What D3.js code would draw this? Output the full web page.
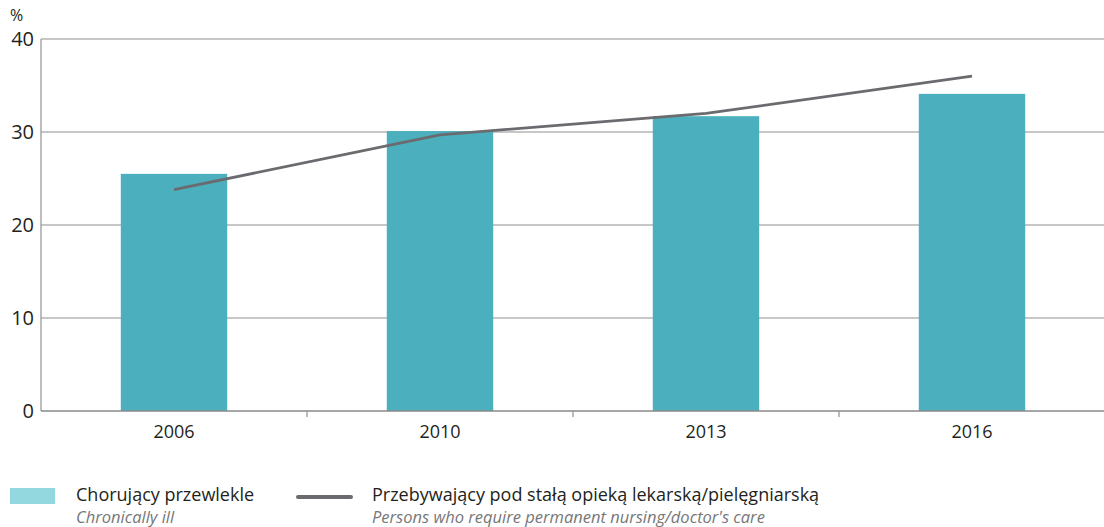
<!DOCTYPE html>
<html><head><meta charset="utf-8">
<script src="https://cdn.jsdelivr.net/npm/d3@7"></script>
<style>
body{margin:0;background:#fff;}
text{font-family:"Open Sans","Noto Sans",sans-serif;}
</style></head>
<body><svg id="c" width="1104" height="527"></svg>
<script>
const categories = ["2006","2010","2013","2016"];
const chronicallyIll = [25.5, 30.1, 31.7, 34.1];
const permanentCare = [23.8, 29.7, 32.0, 36.0];
const yTicks = [0,10,20,30,40];

(function(){
const svg = d3.select("#c");
const pL = 41, pR = 1105, pT = 39, pB = 411;
const x = d3.scaleBand().domain(categories).range([pL, pR]).paddingInner(0.6).paddingOuter(0.3);
const xc = d => x(d) + x.bandwidth()/2;
const y = d3.scaleLinear().domain([0,40]).range([pB, pT]);

// gridlines
svg.append("g").selectAll("line").data(yTicks.filter(t=>t>0)).join("line")
  .attr("x1", pL).attr("x2", 1104).attr("y1", d=>y(d)).attr("y2", d=>y(d))
  .attr("stroke", "#b5b5b5").attr("stroke-width", 1.3);

// bars
svg.append("g").selectAll("rect").data(chronicallyIll).join("rect")
  .attr("x", (d,i)=>x(categories[i])).attr("width", x.bandwidth())
  .attr("y", d=>y(d)).attr("height", d=>pB - y(d))
  .attr("fill", "#4bafbd");

// y axis line
svg.append("line").attr("x1", pL).attr("x2", pL).attr("y1", pT).attr("y2", pB)
  .attr("stroke", "#9a9a9a").attr("stroke-width", 1.3);
// x axis
svg.append("line").attr("x1", pL).attr("x2", 1104).attr("y1", pB).attr("y2", pB)
  .attr("stroke", "#8a8a8a").attr("stroke-width", 1.6);
// ticks between bands
const step = x.step();
svg.append("g").selectAll("line").data(categories.slice(1)).join("line")
  .attr("x1", d=>x(d) - x.paddingInner()*step/2).attr("x2", d=>x(d) - x.paddingInner()*step/2)
  .attr("y1", pB).attr("y2", pB+6).attr("stroke", "#9a9a9a").attr("stroke-width", 1.3);

// y labels
svg.append("g").selectAll("text").data(yTicks).join("text")
  .attr("x", 34).attr("y", d=>y(d)+7).attr("text-anchor","end")
  .attr("font-size", 20).attr("fill","#231f20").text(d=>d);
svg.append("text").attr("x", 10).attr("y", 21).attr("font-size", 16).attr("fill","#231f20").text("%");

// x labels
svg.append("g").selectAll("text").data(categories).join("text")
  .attr("x", d=>xc(d)).attr("y", 438).attr("text-anchor","middle")
  .attr("font-size", 18).attr("fill","#231f20").text(d=>d);

// line
const line = d3.line().x((d,i)=>xc(categories[i])).y(d=>y(d)).curve(d3.curveLinear);
svg.append("path").datum(permanentCare).attr("d", line)
  .attr("fill","none").attr("stroke","#6b6b6f").attr("stroke-width",2.8).attr("stroke-linejoin","round");

// legend
svg.append("rect").attr("x",10).attr("y",488).attr("width",45).attr("height",16).attr("fill","#93d7df");
svg.append("text").attr("x",76).attr("y",501).attr("font-size",18).attr("fill","#231f20").text("Chorujący przewlekle");
svg.append("text").attr("x",76).attr("y",523).attr("font-size",16.5).attr("font-style","italic").attr("fill","#777").text("Chronically ill");
svg.append("line").attr("x1",298).attr("x2",351).attr("y1",497).attr("y2",497)
  .attr("stroke","#6b6b6f").attr("stroke-width",4).attr("stroke-linecap","round");
svg.append("text").attr("x",372).attr("y",501).attr("font-size",18).attr("fill","#231f20").text("Przebywający pod stałą opieką lekarską/pielęgniarską");
svg.append("text").attr("x",372).attr("y",523).attr("font-size",16.5).attr("font-style","italic").attr("fill","#777").text("Persons who require permanent nursing/doctor's care");
})();
</script></body></html>
